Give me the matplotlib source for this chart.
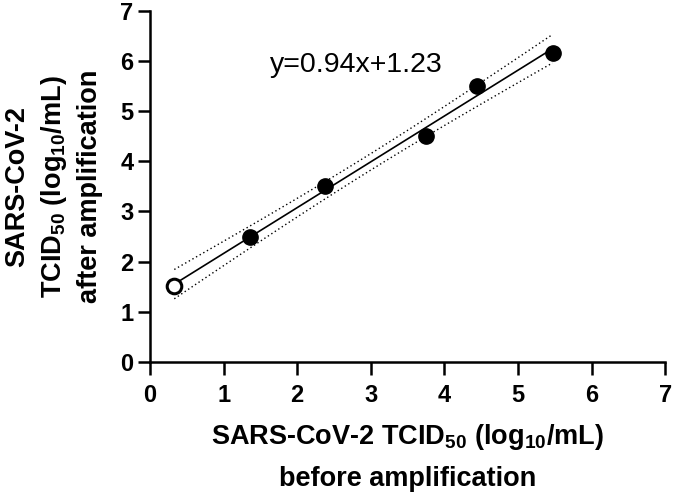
import numpy as np
import matplotlib
matplotlib.use('Agg')
from matplotlib import pyplot as plt

plt.rcParams['font.family'] = ['Liberation Sans', 'DejaVu Sans']
plt.rcParams['mathtext.fontset'] = 'custom'
plt.rcParams['mathtext.rm'] = 'Liberation Sans'
plt.rcParams['mathtext.bf'] = 'Liberation Sans:bold'

# values
before = [0.33, 1.36, 2.38, 3.75, 4.44, 5.47]
after = [1.51, 2.50, 3.51, 4.50, 5.50, 6.17]
open_point = [True, False, False, False, False, False]
equation = 'y=0.94x+1.23'

x = np.array(before)
y = np.array(after)

# linear fit with 95% confidence band
slope, intercept = np.polyfit(x, y, 1)
xs = np.linspace(x.min(), x.max(), 100)
fit = slope * xs + intercept
n = len(x)
resid = y - (slope * x + intercept)
s = np.sqrt(np.sum(resid ** 2) / (n - 2))
sxx = np.sum((x - x.mean()) ** 2)
t = 2.776  # t(0.975, 4)
half = t * s * np.sqrt(1 / n + (xs - x.mean()) ** 2 / sxx)

fig = plt.figure(figsize=(6.85, 4.95), dpi=100)
ax = fig.add_axes([0.219, 0.269, 0.752, 0.709])

ax.plot(xs, fit, color='black', lw=1.2, zorder=2)
ax.plot(xs, fit + half, color='black', lw=1.0, ls=(0, (1, 2)), zorder=2)
ax.plot(xs, fit - half, color='black', lw=1.0, ls=(0, (1, 2)), zorder=2)

for xi, yi, op in zip(before, after, open_point):
    if op:
        ax.plot(xi, yi, 'o', ms=10.5, mfc='white', mec='black', mew=2.2, zorder=3)
    else:
        ax.plot(xi, yi, 'o', ms=11, mfc='black', mec='black', zorder=3)

ax.text(2.8, 5.92, equation, fontsize=20.5, ha='center', va='center')

ax.set_xlim(0, 7)
ax.set_ylim(0, 7)
ax.set_xticks(range(8))
ax.set_yticks(range(8))
ax.spines['top'].set_visible(False)
ax.spines['right'].set_visible(False)
for sp in ['left', 'bottom']:
    ax.spines[sp].set_linewidth(1.8)
ax.tick_params(axis='x', length=9, width=1.8, pad=7, labelsize=17)
ax.tick_params(axis='y', length=9, width=1.8, pad=3, labelsize=17)
for lab in ax.get_xticklabels() + ax.get_yticklabels():
    lab.set_fontweight('bold')

ax.set_xlabel('SARS-CoV-2 TCID$_{\\mathbf{50}}$ (log$_{\\mathbf{10}}$/mL)\nbefore amplification',
              fontsize=19.5, fontweight='bold', labelpad=11, linespacing=1.7)
ax.set_ylabel('SARS-CoV-2\nTCID$_{\\mathbf{50}}$ (log$_{\\mathbf{10}}$/mL)\nafter amplification',
              fontsize=19.5, fontweight='bold', labelpad=12, linespacing=1.42)

fig.savefig('out.png', dpi=100)
